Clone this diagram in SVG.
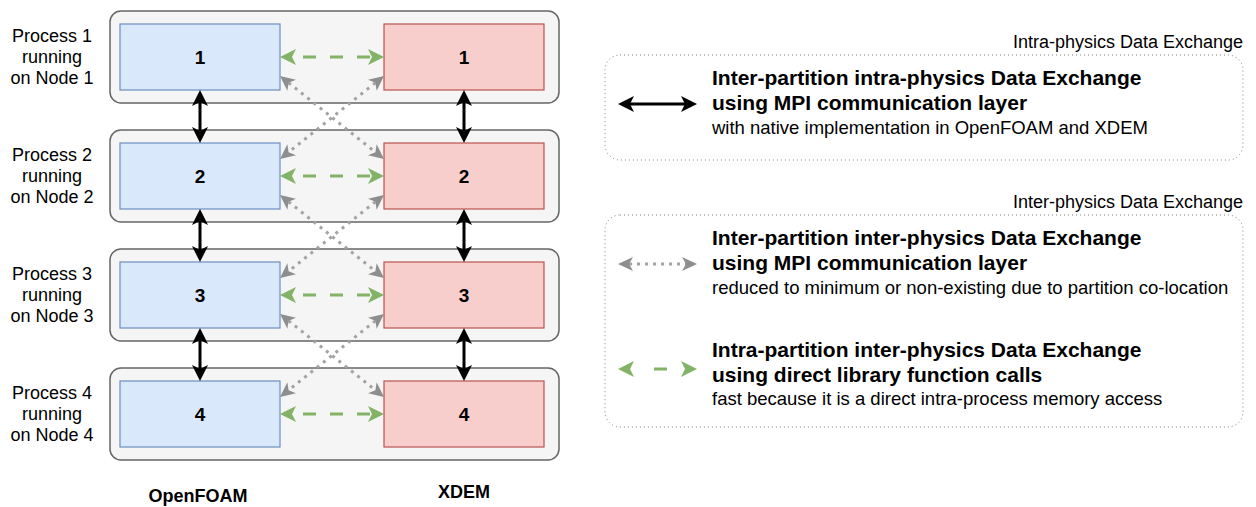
<svg xmlns="http://www.w3.org/2000/svg" width="1256" height="507" viewBox="0 0 1256 507">
<style>
text{font-family:"Liberation Sans",Arial,Helvetica,sans-serif;fill:#000}
.lbl{font-size:18px;text-anchor:middle}
.num{font-size:19px;font-weight:bold;text-anchor:middle}
.col{font-size:18px;font-weight:bold;text-anchor:middle}
.cont{fill:#f5f5f5;stroke:#666;stroke-width:1.5}
.of{fill:#dae8fc;stroke:#6c8ebf;stroke-width:1.2}
.xd{fill:#f8cecc;stroke:#b85450;stroke-width:1.2}
.mpi{stroke:#000;stroke-width:3;fill:none;marker-start:url(#mb);marker-end:url(#mb)}
.lib{stroke:#82b366;stroke-width:3;fill:none;stroke-dasharray:13 14;stroke-dashoffset:16;marker-start:url(#mg);marker-end:url(#mg)}
.xmpi{stroke:#a3a3a3;stroke-width:3;fill:none;stroke-dasharray:3 5;marker-start:url(#mr);marker-end:url(#mr)}
.leg{fill:none;stroke:#808080;stroke-width:1;stroke-dasharray:1 3}
.sec{font-size:18px;text-anchor:end}
.b{font-size:21px;font-weight:bold}
.n{font-size:18.5px}
</style>
<defs>
<marker id="mb" viewBox="0 0 16 16" refX="4" refY="8" markerWidth="16" markerHeight="16" markerUnits="userSpaceOnUse" orient="auto-start-reverse">
<path d="M0,0 L16,8 L0,16 L4,8 Z" fill="#000"/>
</marker>
<marker id="mg" viewBox="0 0 16 16" refX="4" refY="8" markerWidth="16" markerHeight="16" markerUnits="userSpaceOnUse" orient="auto-start-reverse">
<path d="M0,0 L16,8 L0,16 L4,8 Z" fill="#82b366"/>
</marker>
<marker id="mr" viewBox="0 0 15 14" refX="4" refY="7" markerWidth="15" markerHeight="14" markerUnits="userSpaceOnUse" orient="auto-start-reverse">
<path d="M0,0 L15,7 L0,14 L4,7 Z" fill="#8e8e8e"/>
</marker>
</defs>

<g id="process1">
<rect class="cont" x="110" y="11" width="449" height="92" rx="11"/>
<text class="lbl" x="52" y="42">Process 1</text>
<text class="lbl" x="52" y="63">running</text>
<text class="lbl" x="52" y="84">on Node 1</text>
</g>
<g id="process2">
<rect class="cont" x="110" y="130" width="449" height="92" rx="11"/>
<text class="lbl" x="52" y="161">Process 2</text>
<text class="lbl" x="52" y="182">running</text>
<text class="lbl" x="52" y="203">on Node 2</text>
</g>
<g id="process3">
<rect class="cont" x="110" y="249" width="449" height="92" rx="11"/>
<text class="lbl" x="52" y="280">Process 3</text>
<text class="lbl" x="52" y="301">running</text>
<text class="lbl" x="52" y="322">on Node 3</text>
</g>
<g id="process4">
<rect class="cont" x="110" y="368" width="449" height="92" rx="11"/>
<text class="lbl" x="52" y="399">Process 4</text>
<text class="lbl" x="52" y="420">running</text>
<text class="lbl" x="52" y="441">on Node 4</text>
</g>

<g id="openfoam1"><rect class="of" x="120" y="24" width="160" height="66"/><text class="num" x="200" y="64">1</text></g>
<g id="openfoam2"><rect class="of" x="120" y="143" width="160" height="66"/><text class="num" x="200" y="183">2</text></g>
<g id="openfoam3"><rect class="of" x="120" y="262" width="160" height="66"/><text class="num" x="200" y="302">3</text></g>
<g id="openfoam4"><rect class="of" x="120" y="381" width="160" height="66"/><text class="num" x="200" y="421">4</text></g>
<g id="xdem1"><rect class="xd" x="384" y="24" width="160" height="66"/><text class="num" x="464" y="64">1</text></g>
<g id="xdem2"><rect class="xd" x="384" y="143" width="160" height="66"/><text class="num" x="464" y="183">2</text></g>
<g id="xdem3"><rect class="xd" x="384" y="262" width="160" height="66"/><text class="num" x="464" y="302">3</text></g>
<g id="xdem4"><rect class="xd" x="384" y="381" width="160" height="66"/><text class="num" x="464" y="421">4</text></g>

<g id="col-openfoam"><text class="col" x="198" y="501.5">OpenFOAM</text></g>
<g id="col-xdem"><text class="col" x="464" y="497.5">XDEM</text></g>

<g id="connectors">
<line class="mpi" x1="200" y1="102" x2="200" y2="131"/>
<line class="mpi" x1="200" y1="221" x2="200" y2="250"/>
<line class="mpi" x1="200" y1="340" x2="200" y2="369"/>
<line class="mpi" x1="464" y1="102" x2="464" y2="131"/>
<line class="mpi" x1="464" y1="221" x2="464" y2="250"/>
<line class="mpi" x1="464" y1="340" x2="464" y2="369"/>

<line class="lib" x1="292" y1="57" x2="372" y2="57"/>
<line class="lib" x1="292" y1="176" x2="372" y2="176"/>
<line class="lib" x1="292" y1="295" x2="372" y2="295"/>
<line class="lib" x1="292" y1="414" x2="372" y2="414"/>

<line class="xmpi" x1="288.6" y1="82.8" x2="375.4" y2="152.2"/>
<line class="xmpi" x1="375.4" y1="82.8" x2="288.6" y2="152.2"/>
<line class="xmpi" x1="288.6" y1="201.8" x2="375.4" y2="271.2"/>
<line class="xmpi" x1="375.4" y1="201.8" x2="288.6" y2="271.2"/>
<line class="xmpi" x1="288.6" y1="320.8" x2="375.4" y2="390.2"/>
<line class="xmpi" x1="375.4" y1="320.8" x2="288.6" y2="390.2"/>
</g>

<g id="legend-intra">
<text class="sec" x="1243" y="48">Intra-physics Data Exchange</text>
<rect class="leg" x="605" y="55" width="638" height="105" rx="15"/>
<line class="mpi" x1="630" y1="104" x2="685" y2="104"/>
<text class="b" x="712" y="85">Inter-partition intra-physics Data Exchange</text>
<text class="b" x="712" y="110">using MPI communication layer</text>
<text class="n" x="712" y="134">with native implementation in OpenFOAM and XDEM</text>
</g>

<g id="legend-inter">
<text class="sec" x="1243" y="208">Inter-physics Data Exchange</text>
<rect class="leg" x="605" y="215" width="638" height="212" rx="15"/>
<line class="xmpi" x1="629" y1="264" x2="686" y2="264"/>
<text class="b" x="712" y="245">Inter-partition inter-physics Data Exchange</text>
<text class="b" x="712" y="270">using MPI communication layer</text>
<text class="n" x="712" y="294">reduced to minimum or non-existing due to partition co-location</text>
<line class="lib" x1="630" y1="369" x2="685" y2="369" style="stroke-dasharray:0 24 13 100;stroke-dashoffset:0"/>
<text class="b" x="712" y="357">Intra-partition inter-physics Data Exchange</text>
<text class="b" x="712" y="382">using direct library function calls</text>
<text class="n" x="712" y="405">fast because it is a direct intra-process memory access</text>
</g>
</svg>
